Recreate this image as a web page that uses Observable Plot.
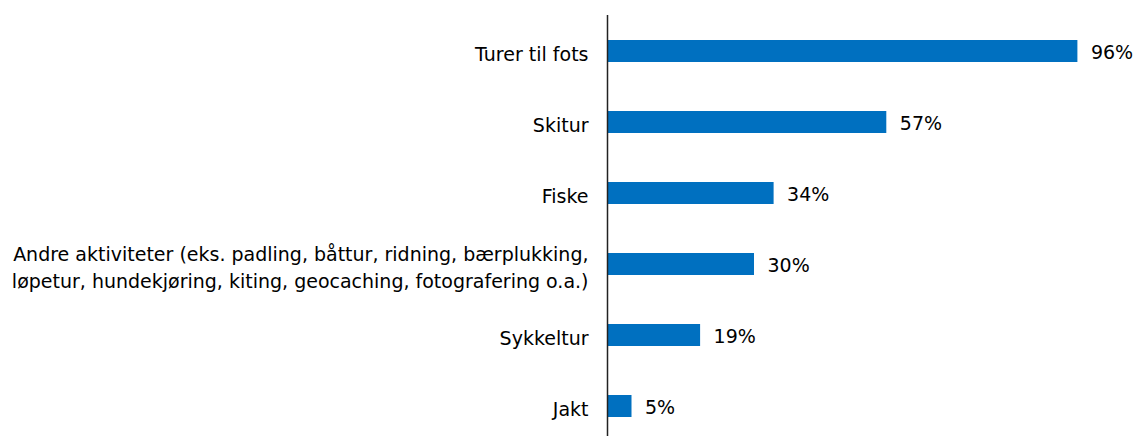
<!DOCTYPE html>
<html>
<head>
<meta charset="utf-8">
<script src="https://cdn.jsdelivr.net/npm/d3@7"></script>
<script src="https://cdn.jsdelivr.net/npm/@observablehq/plot@0.6"></script>
<style>
  html, body { margin: 0; padding: 0; background: #fff; }
  #chart svg { display: block; }
</style>
</head>
<body>
<div id="chart"></div>
<script>
const categories = [
  "Turer til fots",
  "Skitur",
  "Fiske",
  "Andre aktiviteter (eks. padling, båttur, ridning, bærplukking,\nløpetur, hundekjøring, kiting, geocaching, fotografering o.a.)",
  "Sykkeltur",
  "Jakt"
];
const values = [96, 57, 34, 30, 19, 5];
const valueLabels = ["96%", "57%", "34%", "30%", "19%", "5%"];

const data = categories.map((c, i) => ({cat: c, value: values[i], label: valueLabels[i]}));

const font = "'DejaVu Sans', sans-serif";

const chart = Plot.plot({
  width: 1140,
  height: 436,
  marginLeft: 607,
  marginRight: 43,
  marginTop: 15,
  marginBottom: 0,
  style: {fontFamily: font, fontSize: "19px", color: "#000", background: "#fff"},
  x: {domain: [0, 100], axis: null},
  y: {domain: categories, range: [14, 443], paddingInner: 0.69, paddingOuter: 0.345, axis: null},
  marks: [
    Plot.barX(data, {x: "value", y: "cat", fill: "#0070c0"}),
    Plot.ruleX([0], {stroke: "#222", strokeWidth: 1.5}),
    Plot.text(data, {x: 0, y: "cat", text: "cat", textAnchor: "end", dx: -19, dy: 1, lineHeight: 1.42, fontSize: 19, fill: "#000"}),
    Plot.text(data, {x: "value", y: "cat", text: "label", textAnchor: "start", dx: 13, dy: 1, fontSize: 19, fill: "#000"})
  ]
});
document.getElementById("chart").appendChild(chart);
</script>
</body>
</html>
